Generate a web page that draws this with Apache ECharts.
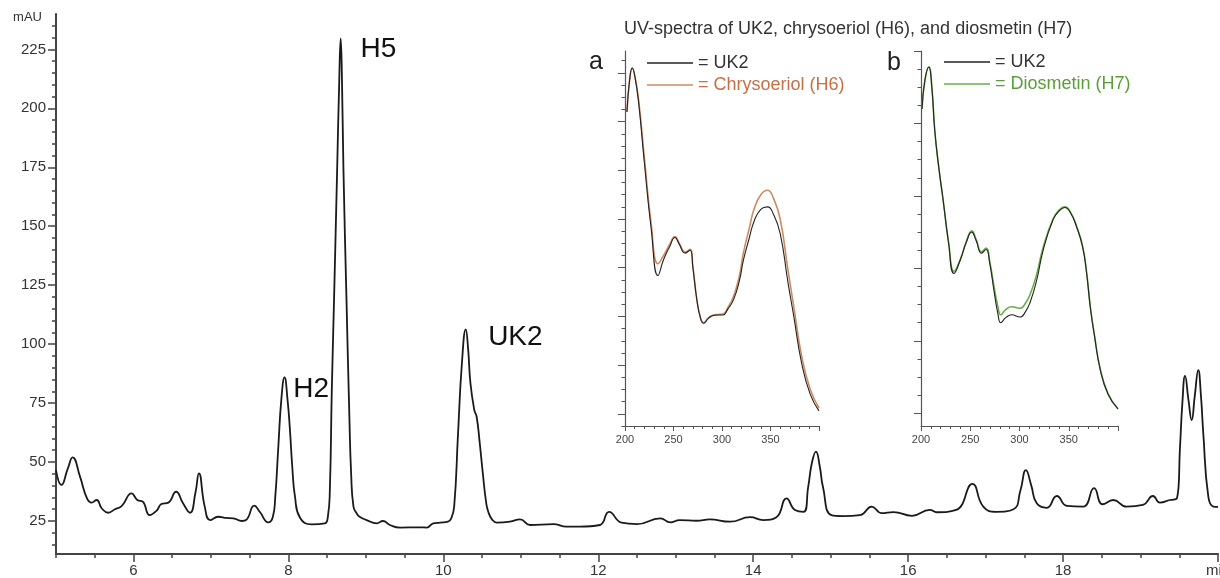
<!DOCTYPE html>
<html><head><meta charset="utf-8">
<script src="https://cdn.jsdelivr.net/npm/echarts@6/dist/echarts.min.js"></script>
<style>html,body{margin:0;padding:0;background:#fff}#c{width:1220px;height:578px}</style>
</head><body><div id="c"></div>
<script>
const FONT = '"Liberation Sans", Arial, Helvetica, sans-serif';

// ---- Chromatogram (retention time in min, absorbance in mAU) ----
const timeMin = [
5.00, 5.07, 5.15, 5.215, 5.31, 5.40, 5.46, 5.525, 5.59, 5.675,
5.76, 5.85, 5.975, 6.05, 6.12, 6.21, 6.30, 6.36, 6.45, 6.55,
6.64, 6.73, 6.80, 6.845, 6.92, 6.99, 7.095, 7.20, 7.29, 7.40,
7.46, 7.56, 7.63, 7.74, 7.80, 7.83, 7.87, 7.91, 7.95, 7.99,
8.02, 8.05, 8.085, 8.15, 8.30, 8.47, 8.51, 8.535, 8.56, 8.59,
8.63, 8.655, 8.675, 8.69, 8.71, 8.75, 8.786, 8.81, 8.84, 8.88,
8.92, 9.01, 9.14, 9.22, 9.31, 9.44, 9.70, 9.785, 9.87, 9.96,
10.06, 10.10, 10.14, 10.19, 10.24, 10.29, 10.32, 10.35, 10.40, 10.43,
10.47, 10.51, 10.55, 10.58, 10.63, 10.69, 10.86, 10.99, 11.12, 11.42,
11.59, 11.76, 12.02, 12.14, 12.30, 12.50, 12.80, 12.93, 13.05, 13.27,
13.44, 13.70, 13.96, 14.13, 14.30, 14.43, 14.54, 14.65, 14.71, 14.76,
14.81, 14.86, 14.90, 15.01, 15.16, 15.38, 15.53, 15.66, 15.81, 16.05,
16.28, 16.37, 16.62, 16.83, 16.97, 17.14, 17.36, 17.45, 17.52, 17.59,
17.66, 17.79, 17.92, 18.05, 18.26, 18.40, 18.51, 18.65, 18.82, 19.03,
19.16, 19.25, 19.38, 19.47, 19.51, 19.54, 19.575, 19.62, 19.66, 19.70,
19.745, 19.78, 19.81, 19.875, 19.94, 20.00];
const absorbance = [
46.6, 40.3, 47.0, 52.0, 43.8, 34.6, 32.8, 33.9, 30.4, 28.5,
30.0, 31.4, 36.7, 33.9, 33.2, 27.5, 29.4, 32.2, 32.8, 37.4,
32.5, 28.5, 37.0, 45.2, 31.1, 25.4, 26.8, 26.3, 26.1, 25.0,
25.6, 31.5, 28.9, 24.4, 26.8, 35.0, 56.5, 77.0, 85.9, 76.0,
63.6, 48.0, 35.3, 26.4, 23.6, 24.0, 27.0, 38.0, 80.0, 120.0,
175.0, 210.0, 229.7, 215.0, 175.0, 118.7, 70.7, 45.0, 31.1, 28.3,
26.8, 25.4, 24.0, 25.0, 23.3, 22.2, 22.3, 22.2, 24.0, 24.3,
24.7, 26.0, 31.1, 62.2, 92.0, 106.3, 98.0, 83.4, 72.0, 69.2,
58.0, 45.2, 33.5, 28.9, 25.6, 24.3, 24.7, 25.7, 23.3, 23.7,
22.6, 22.6, 23.3, 28.9, 24.3, 23.7, 26.1, 24.4, 25.4, 25.1,
25.7, 24.7, 26.6, 25.4, 26.6, 34.6, 29.7, 28.9, 39.5, 50.0,
54.4, 48.0, 39.5, 27.5, 27.1, 27.5, 31.1, 28.3, 28.8, 27.2,
29.7, 28.7, 29.7, 40.7, 31.1, 28.9, 30.0, 38.0, 46.6, 40.0,
32.5, 30.6, 35.6, 31.4, 31.1, 38.9, 32.1, 33.9, 31.1, 31.8,
35.6, 32.8, 33.9, 34.6, 56.5, 75.0, 86.5, 76.0, 67.8, 78.0,
89.0, 78.0, 62.2, 35.3, 31.1, 31.0];

// peak annotations (left-middle anchor in data units)
const peakLabels = ['H5', 'H2', 'UK2'];
const peakLabelTime = [8.924, 8.055, 10.572];
const peakLabelValue = [225.2, 80.8, 102.9];

// main axis ticks
const mainXMajor = [6, 8, 10, 12, 14, 16, 18, 20];
const mainXMinor = [5, 5.5, 6, 6.5, 7, 7.5, 8, 8.5, 9, 9.5, 10, 10.5, 11, 11.5, 12, 12.5, 13, 13.5, 14, 14.5, 15, 15.5, 16, 16.5, 17, 17.5, 18, 18.5, 19, 19.5, 20];
const mainYMajor = [25, 50, 75, 100, 125, 150, 175, 200, 225];
const mainYMinor = [15, 20, 25, 30, 35, 40, 45, 50, 55, 60, 65, 70, 75, 80, 85, 90, 95, 100, 105, 110, 115, 120, 125, 130, 135, 140, 145, 150, 155, 160, 165, 170, 175, 180, 185, 190, 195, 200, 205, 210, 215, 220, 225, 230, 235];

// ---- UV spectra, inset a (UK2 vs chrysoeriol H6) ----
const wavelengthA = [202, 205, 207.5, 210, 214, 220, 227, 234, 240, 246,
  251.5, 256, 262, 267, 270, 274, 278, 281, 286, 291,
  296, 301, 306, 312, 318, 322, 328, 333, 340, 347,
  353, 360, 368, 374, 382, 391, 400];
const uk2A = [62, 69, 71, 69.5, 64, 51.5, 38, 28.4, 31.8, 34.3,
  36.2, 34.8, 33.0, 33.6, 30, 23.5, 19.5, 18.6, 19.6, 20.2,
  20.3, 20.3, 21.5, 23.5, 27.4, 31.5, 36, 39.5, 42, 42.5,
  41, 37, 27, 20, 10.5, 4, 0.6];
const h6A = [62, 69, 71, 69.5, 64.5, 52.5, 39, 30.8, 32.6, 34.8,
  36.4, 35, 33.2, 33.8, 30.2, 23.6, 19.6, 18.7, 19.7, 20.3,
  20.4, 20.5, 21.8, 24.2, 28.4, 33, 38, 42, 45, 45.9,
  44.3, 40, 29.5, 22, 12, 5, 1.2];

// ---- UV spectra, inset b (UK2 vs diosmetin H7) ----
const wavelengthB = [201, 204, 208, 211, 214, 218, 222.5, 228, 233.5, 240,
  246, 251.5, 256, 261.5, 266, 270, 274, 278, 281, 286,
  292, 300.5, 306, 311, 317.5, 324, 334, 340, 346, 352,
  358, 364, 368, 372, 376, 382, 390, 400];
const uk2B = [42, 46, 47.8, 45, 39, 34, 29.4, 23.5, 19.3, 21.2,
  23.6, 25.0, 23.8, 22.1, 22.6, 20.5, 17, 13.8, 12.5, 13.2,
  13.6, 13.3, 14, 15.4, 18.4, 22.5, 26.7, 27.9, 28.4, 27.6,
  25.7, 23, 19.5, 14.5, 10.8, 6, 2.6, 0.6];
const h7B = [42, 46, 47.8, 45, 39, 34, 29.4, 23.6, 19.6, 21.3,
  23.7, 25.2, 24, 22.3, 22.8, 20.8, 17.6, 14.8, 13.6, 14.3,
  14.7, 14.5, 15.2, 16.5, 19.2, 22.9, 26.8, 28, 28.5, 27.7,
  25.8, 23.1, 19.6, 14.6, 10.9, 6.1, 2.7, 0.6];

// inset axis ticks
const specAYMajor = [0, 10, 20, 30, 40, 50, 60, 70];
const specAYMinor = [-2.5, 0, 2.5, 5, 7.5, 10, 12.5, 15, 17.5, 20, 22.5, 25, 27.5, 30, 32.5, 35, 37.5, 40, 42.5, 45, 47.5, 50, 52.5, 55, 57.5, 60, 62.5, 65, 67.5, 70, 72.5];
const specBYMajor = [0, 10, 20, 30, 40, 50];
const specBYMinor = [0, 2.5, 5, 7.5, 10, 12.5, 15, 17.5, 20, 22.5, 25, 27.5, 30, 32.5, 35, 37.5, 40, 42.5, 45, 47.5, 50];

const pair = (xs, ys) => xs.map((x, i) => [x, ys[i]]);

const AX = '#444';
const C_H6 = '#d08a62';
const C_H6_TXT = '#c76f45';
const C_H7 = '#6aac48';
const C_H7_TXT = '#5a9e3a';

function xMain(major) {
  return {
    gridIndex: 0, type: 'value', min: 5, max: 20, position: 'bottom',
    axisLine: { show: major, onZero: false, lineStyle: { color: AX, width: 2 } },
    axisTick: { show: true, customValues: major ? mainXMajor : mainXMinor, length: major ? 8 : 4, lineStyle: { color: AX, width: 1.5 } },
    axisLabel: major ? { show: true, customValues: mainXMajor, formatter: v => v === 20 ? 'min' : String(v), fontSize: 15, color: '#333', margin: 9, fontFamily: FONT } : { show: false },
    splitLine: { show: false }
  };
}
function yMain(major) {
  const ax = {
    gridIndex: 0, type: 'value', min: 11, max: 240, position: 'left',
    axisLine: { show: major, onZero: false, lineStyle: { color: AX, width: 2 } },
    axisTick: { show: true, customValues: major ? mainYMajor : mainYMinor, length: major ? 8 : 4, lineStyle: { color: AX, width: 1.5 } },
    axisLabel: major ? { show: true, customValues: mainYMajor, fontSize: 15, color: '#333', margin: 10, fontFamily: FONT } : { show: false },
    splitLine: { show: false }
  };
  if (major) {
    ax.name = 'mAU';
    ax.nameLocation = 'end';
    ax.nameGap = 3;
    ax.nameTextStyle = { fontSize: 13, color: '#333', align: 'right', verticalAlign: 'top', padding: [0, 14, 0, 0], fontFamily: FONT };
  }
  return ax;
}
function xSpec(grid) {
  return {
    gridIndex: grid, type: 'value', min: 200, max: 400, interval: 50, position: 'bottom',
    axisLine: { onZero: false, lineStyle: { color: '#555', width: 1.2 } },
    axisTick: { length: 5, lineStyle: { color: '#555' } },
    minorTick: { show: true, splitNumber: 5, length: 3, lineStyle: { color: '#555' } },
    axisLabel: { formatter: v => v === 400 ? '' : String(v), fontSize: 11, color: '#444', margin: 8, fontFamily: FONT },
    splitLine: { show: false }, minorSplitLine: { show: false }
  };
}
function ySpec(grid, min, max, major, ticks) {
  return {
    gridIndex: grid, type: 'value', min: min, max: max, position: 'left',
    axisLine: { show: major, onZero: false, lineStyle: { color: '#555', width: 1.2 } },
    axisTick: { show: true, customValues: ticks, length: major ? 7 : 3.5, lineStyle: { color: '#555' } },
    axisLabel: { show: false },
    splitLine: { show: false }
  };
}
function legendFor(left, top, other, otherColor) {
  return {
    orient: 'vertical', left: left, top: top, padding: 0,
    icon: 'rect', itemWidth: 46, itemHeight: 1.6, itemGap: 4,
    selectedMode: false, formatter: '= {name}',
    textStyle: { fontSize: 18, lineHeight: 18, color: '#333', fontFamily: FONT },
    data: [{ name: 'UK2' }, { name: other, textStyle: { color: otherColor } }]
  };
}

const chart = echarts.init(document.getElementById('c'), null, { renderer: 'canvas' });
chart.setOption({
  animation: false,
  backgroundColor: '#fff',
  textStyle: { fontFamily: FONT },
  title: [
    { text: 'UV-spectra of UK2, chrysoeriol (H6), and diosmetin (H7)', left: 619, top: 15,
      textStyle: { fontSize: 18, fontWeight: 'normal', color: '#333', fontFamily: FONT } },
    { text: 'a', left: 589, top: 50, padding: 0, textStyle: { fontSize: 25, fontWeight: 'normal', color: '#222', fontFamily: FONT } },
    { text: 'b', left: 887, top: 51, padding: 0, textStyle: { fontSize: 25, fontWeight: 'normal', color: '#222', fontFamily: FONT } }
  ],
  legend: [
    legendFor(647, 54, 'Chrysoeriol (H6)', C_H6_TXT),
    legendFor(944, 53, 'Diosmetin (H7)', C_H7_TXT)
  ],
  grid: [
    { left: 56, top: 14, right: 2, bottom: 24, containLabel: false, outerBoundsMode: 'none' },
    { left: 625, top: 51, width: 194, height: 375, containLabel: false, outerBoundsMode: 'none' },
    { left: 921, top: 51, width: 197, height: 375, containLabel: false, outerBoundsMode: 'none' }
  ],
  xAxis: [xMain(true), xMain(false), xSpec(1), xSpec(2)],
  yAxis: [
    yMain(true), yMain(false),
    ySpec(1, -2.5, 74.5, true, specAYMajor), ySpec(1, -2.5, 74.5, false, specAYMinor),
    ySpec(2, -1.75, 50, true, specBYMajor), ySpec(2, -1.75, 50, false, specBYMinor)
  ],
  series: [
    {
      name: 'Chromatogram', type: 'line', xAxisIndex: 0, yAxisIndex: 0,
      data: pair(timeMin, absorbance), symbol: 'none', smooth: 0.5,
      lineStyle: { color: '#1a1a1a', width: 1.8 }, itemStyle: { color: '#1a1a1a' },
      markPoint: {
        silent: true, symbol: 'rect', symbolSize: [1, 1], itemStyle: { color: 'rgba(0,0,0,0)' },
        label: { show: true, position: 'right', distance: 0, formatter: '{b}', fontSize: 28, color: '#111', fontFamily: FONT },
        data: peakLabels.map((n, i) => ({ name: n, coord: [peakLabelTime[i], peakLabelValue[i]] }))
      }
    },
    {
      name: 'Chrysoeriol (H6)', type: 'line', xAxisIndex: 2, yAxisIndex: 2,
      data: pair(wavelengthA, h6A), symbol: 'none', smooth: 0.5,
      lineStyle: { color: C_H6, width: 1.6 }, itemStyle: { color: C_H6 }
    },
    {
      name: 'UK2', type: 'line', xAxisIndex: 2, yAxisIndex: 2,
      data: pair(wavelengthA, uk2A), symbol: 'none', smooth: 0.5,
      lineStyle: { color: '#222', width: 1.1 }, itemStyle: { color: '#222' }
    },
    {
      name: 'Diosmetin (H7)', type: 'line', xAxisIndex: 3, yAxisIndex: 4,
      data: pair(wavelengthB, h7B), symbol: 'none', smooth: 0.5,
      lineStyle: { color: C_H7, width: 1.6 }, itemStyle: { color: C_H7 }
    },
    {
      name: 'UK2', type: 'line', xAxisIndex: 3, yAxisIndex: 4,
      data: pair(wavelengthB, uk2B), symbol: 'none', smooth: 0.5,
      lineStyle: { color: '#222', width: 1.1 }, itemStyle: { color: '#222' }
    }
  ]
});
</script></body></html>
